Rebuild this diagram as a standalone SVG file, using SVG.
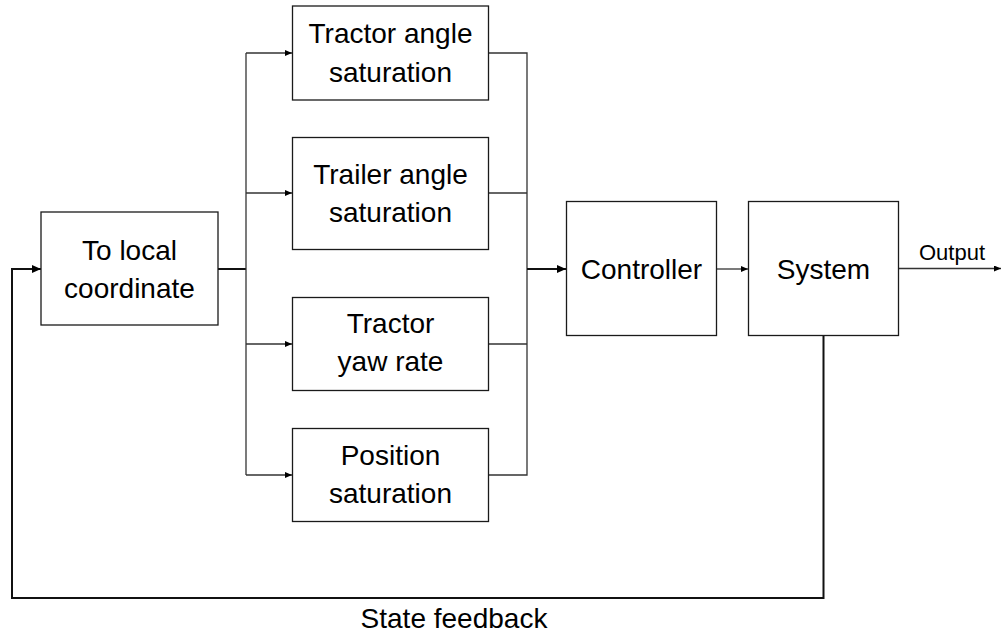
<svg xmlns="http://www.w3.org/2000/svg" width="1002" height="635" viewBox="0 0 1002 635">
<style>
.box{fill:#fff;stroke:#1a1a1a;stroke-width:1.3}
.lbl{font-family:"Liberation Sans",Arial,sans-serif;font-size:28px;fill:#000;text-anchor:middle}
.sm{font-family:"Liberation Sans",Arial,sans-serif;font-size:22px;fill:#000;text-anchor:middle}
.w{fill:none;stroke:#333;stroke-width:1.3}
.t{fill:none;stroke:#111;stroke-width:2}
</style>
<defs>
<marker id="ah" markerWidth="8" markerHeight="6" refX="7" refY="3" orient="auto" markerUnits="userSpaceOnUse">
<path d="M0,0 L7,3 L0,6 Z" fill="#000"/>
</marker>
<marker id="ahb" markerWidth="10" markerHeight="8" refX="9" refY="4" orient="auto" markerUnits="userSpaceOnUse">
<path d="M0,0 L9,4 L0,8 Z" fill="#000"/>
</marker>
</defs>
<rect width="1002" height="635" fill="#fff"/>
<g id="connectors">
<path class="t" d="M218,269 H246"/>
<path class="w" d="M246,53 V475"/>
<path class="w" d="M246,53 H292" marker-end="url(#ah)"/>
<path class="w" d="M246,193 H292" marker-end="url(#ah)"/>
<path class="w" d="M246,344 H292" marker-end="url(#ah)"/>
<path class="w" d="M246,475 H292" marker-end="url(#ah)"/>
<path class="w" d="M489,53 H527 V475 H489"/>
<path class="w" d="M489,193 H527"/>
<path class="w" d="M489,344 H527"/>
<path class="t" d="M527,269 H566" marker-end="url(#ahb)"/>
<path class="w" d="M717,269 H748" marker-end="url(#ah)"/>
<path class="w" d="M898,268.5 H1001" marker-end="url(#ah)"/>
<path class="t" d="M823.5,336 V598 H12 V269 H41" marker-end="url(#ahb)"/>
</g>
<g id="to-local">
<rect class="box" x="41" y="212" width="177" height="113"/>
<text class="lbl" x="129.5" y="260">To local</text>
<text class="lbl" x="129.5" y="298">coordinate</text>
</g>
<g id="tractor-angle">
<rect class="box" x="292.5" y="6" width="196" height="94"/>
<text class="lbl" x="390.5" y="43">Tractor angle</text>
<text class="lbl" x="390.5" y="82">saturation</text>
</g>
<g id="trailer-angle">
<rect class="box" x="292.5" y="137.5" width="196" height="112"/>
<text class="lbl" x="390.5" y="184">Trailer angle</text>
<text class="lbl" x="390.5" y="222">saturation</text>
</g>
<g id="tractor-yaw">
<rect class="box" x="292.5" y="297.5" width="196" height="93"/>
<text class="lbl" x="390.5" y="333">Tractor</text>
<text class="lbl" x="390.5" y="371">yaw rate</text>
</g>
<g id="position">
<rect class="box" x="292.5" y="428.5" width="196" height="93"/>
<text class="lbl" x="390.5" y="465">Position</text>
<text class="lbl" x="390.5" y="503">saturation</text>
</g>
<g id="controller">
<rect class="box" x="566.5" y="201.5" width="150" height="134"/>
<text class="lbl" x="641.5" y="279">Controller</text>
</g>
<g id="system">
<rect class="box" x="748.5" y="201.5" width="150" height="134"/>
<text class="lbl" x="823.5" y="279">System</text>
</g>
<text class="sm" x="952" y="260">Output</text>
<text class="lbl" x="454" y="628">State feedback</text>
</svg>
